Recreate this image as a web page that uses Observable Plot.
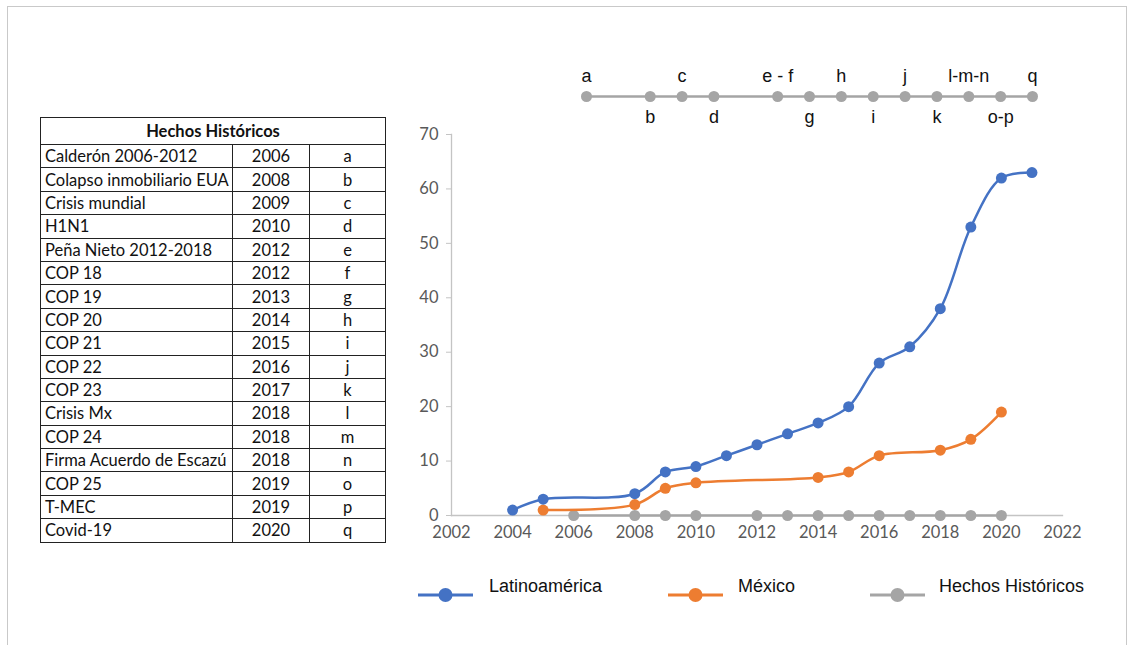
<!DOCTYPE html>
<html>
<head>
<meta charset="utf-8">
<script src="https://cdn.jsdelivr.net/npm/d3@7"></script>
<script src="https://cdn.jsdelivr.net/npm/@observablehq/plot@0.6"></script>
<style>
  html, body { margin: 0; padding: 0; background: #fff; }
  #root { position: relative; width: 1137px; height: 645px; overflow: hidden; background: #fff; }
  #frame { position: absolute; left: 7px; top: 6px; width: 1120px; height: 700px; border: 1.5px solid #c9c9c9; box-sizing: border-box; }
  #tbl { position: absolute; left: 40px; top: 117px; width: 345px; table-layout: fixed; border-collapse: collapse; font-family: Lato, "Open Sans", sans-serif; font-size: 16.5px; color: #111; }
  #tbl td { border: 1px solid #222; height: 22.4px; padding: 0 0 0 4px; line-height: 20px; white-space: nowrap; overflow: hidden; }
  #tbl td.c { text-align: center; padding: 0; }
  #tbl th { border: 1px solid #222; height: 24px; font-weight: bold; text-align: center; font-size: 16.5px; }
  .abs { position: absolute; }
  .leg { position: absolute; font-family: "Liberation Sans", Arial, sans-serif; font-size: 18px; color: #111; line-height: 22px; }
</style>
</head>
<body>
<div id="root">
  <div id="frame"></div>
</div>
<script>
// ---- Data ----
const eventNames = ["Calderón 2006-2012","Colapso inmobiliario EUA","Crisis mundial","H1N1","Peña Nieto 2012-2018","COP 18","COP 19","COP 20","COP 21","COP 22","COP 23","Crisis Mx","COP 24","Firma Acuerdo de Escazú","COP 25","T-MEC","Covid-19"];
const eventYears = [2006,2008,2009,2010,2012,2012,2013,2014,2015,2016,2017,2018,2018,2018,2019,2019,2020];
const eventCodes = ["a","b","c","d","e","f","g","h","i","j","k","l","m","n","o","p","q"];

const latamYears = [2004,2005,2008,2009,2010,2011,2012,2013,2014,2015,2016,2017,2018,2019,2020,2021];
const latamValues = [1,3,4,8,9,11,13,15,17,20,28,31,38,53,62,63];

const mexYears = [2005,2008,2009,2010,2014,2015,2016,2018,2019,2020];
const mexValues = [1,2,5,6,7,8,11,12,14,19];

const hechosYears = [2006,2008,2009,2010,2012,2013,2014,2015,2016,2017,2018,2019,2020];
const hechosValues = [0,0,0,0,0,0,0,0,0,0,0,0,0];
const timelineLabels = ["a","b","c","d","e - f","g","h","i","j","k","l-m-n","o-p","q"];

const xTicks = [2002,2004,2006,2008,2010,2012,2014,2016,2018,2020,2022];
const yTicks = [0,10,20,30,40,50,60,70];

const seriesNames = ["Latinoamérica","México","Hechos Históricos"];
const seriesColors = ["#4472C4","#ED7D31","#A5A5A5"];

const root = document.getElementById("root");

// ---- Table ----
const tbl = document.createElement("table");
tbl.id = "tbl";
const colW = [192, 77, 76];
let html = `<colgroup>${colW.map(w => `<col style="width:${w}px">`).join("")}</colgroup>`;
html += `<tr><th colspan="3">Hechos Históricos</th></tr>`;
eventNames.forEach((n, i) => {
  html += `<tr><td>${n}</td><td class="c">${eventYears[i]}</td><td class="c">${eventCodes[i]}</td></tr>`;
});
tbl.innerHTML = html;
root.appendChild(tbl);

// ---- Main chart ----
const latam = latamYears.map((x, i) => ({x, y: latamValues[i]}));
const mex = mexYears.map((x, i) => ({x, y: mexValues[i]}));
const hechos = hechosYears.map((x, i) => ({x, y: hechosValues[i]}));

const chart = Plot.plot({
  width: 720, height: 430,
  marginLeft: 61, marginRight: 48, marginTop: 14, marginBottom: 35,
  style: {fontFamily: "Lato, 'Open Sans', sans-serif", fontSize: "16.5px", background: "transparent"},
  x: {domain: [2002, 2022]},
  y: {domain: [0, 70]},
  marks: [
    Plot.frame({anchor: "left", stroke: "#c4c4c4", strokeWidth: 1.3}),
    Plot.frame({anchor: "bottom", stroke: "#c4c4c4", strokeWidth: 1.3}),
    Plot.axisY({ticks: yTicks, tickSize: 5, tickPadding: 8, stroke: "#c4c4c4", fill: "#595959", label: null, tickFormat: d => String(d)}),
    Plot.axisX({ticks: xTicks, tickSize: 0, tickPadding: 11, fill: "#595959", label: null, tickFormat: d => String(d)}),
    Plot.line(hechos, {x: "x", y: "y", stroke: seriesColors[2], strokeWidth: 2.5}),
    Plot.dot(hechos, {x: "x", y: "y", r: 5.5, fill: seriesColors[2]}),
    Plot.line(mex, {x: "x", y: "y", stroke: seriesColors[1], strokeWidth: 2.5, curve: "catmull-rom"}),
    Plot.dot(mex, {x: "x", y: "y", r: 5.5, fill: seriesColors[1]}),
    Plot.line(latam, {x: "x", y: "y", stroke: seriesColors[0], strokeWidth: 2.5, curve: "catmull-rom"}),
    Plot.dot(latam, {x: "x", y: "y", r: 5.5, fill: seriesColors[0]})
  ]
});
chart.classList.add("abs");
chart.style.left = "390px";
chart.style.top = "120px";
root.appendChild(chart);

// ---- Top timeline ----
const tl = hechosYears.map((x, i) => ({x, label: timelineLabels[i], above: i % 2 === 0}));
const timeline = Plot.plot({
  width: 500, height: 72,
  marginLeft: 26, marginRight: 28, marginTop: 36, marginBottom: 36,
  style: {fontFamily: "'Liberation Sans', Arial, sans-serif", fontSize: "18px", background: "transparent"},
  x: {domain: [2006, 2020], axis: null},
  marks: [
    Plot.lineX(tl, {x: "x", stroke: seriesColors[2], strokeWidth: 2.5}),
    Plot.dot(tl, {x: "x", r: 5.5, fill: seriesColors[2]}),
    Plot.text(tl.filter(d => d.above), {x: "x", text: "label", dy: -20, fill: "#111"}),
    Plot.text(tl.filter(d => !d.above), {x: "x", text: "label", dy: 21, fill: "#111"})
  ]
});
timeline.classList.add("abs");
timeline.style.left = "560px";
timeline.style.top = "60px";
root.appendChild(timeline);

// ---- Legend ----
const legendPos = [{line: 418, text: 489}, {line: 668, text: 738}, {line: 870, text: 939}];
seriesNames.forEach((name, i) => {
  const svg = d3.create("svg").attr("width", 56).attr("height", 20)
    .style("position", "absolute").style("left", legendPos[i].line + "px").style("top", "585px");
  svg.append("line").attr("x1", 0).attr("x2", 55).attr("y1", 10).attr("y2", 10)
    .attr("stroke", seriesColors[i]).attr("stroke-width", 3);
  svg.append("circle").attr("cx", 27.5).attr("cy", 10).attr("r", 7).attr("fill", seriesColors[i]);
  root.appendChild(svg.node());
  const t = document.createElement("div");
  t.className = "leg";
  t.style.left = legendPos[i].text + "px";
  t.style.top = "575px";
  t.textContent = name;
  root.appendChild(t);
});
</script>
</body>
</html>
